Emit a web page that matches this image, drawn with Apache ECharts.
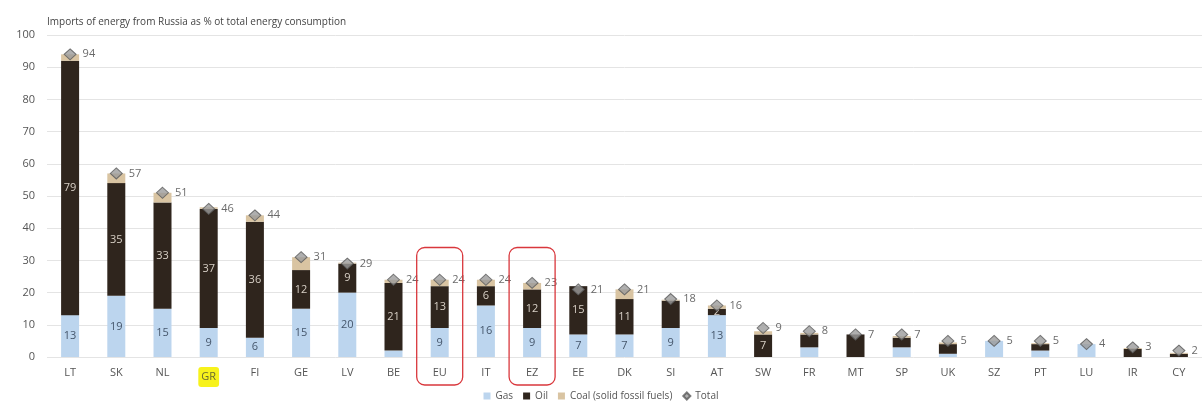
<!DOCTYPE html>
<html>
<head>
<meta charset="utf-8">
<script src="https://cdn.jsdelivr.net/npm/echarts@6/dist/echarts.min.js"></script>
<style>
  html, body { margin: 0; padding: 0; background: #fff; }
  #chart { width: 1202px; height: 410px; }
</style>
</head>
<body>
<div id="chart"></div>
<script>
// Country / aggregate codes
const categories = ['LT','SK','NL','GR','FI','GE','LV','BE','EU','IT','EZ','EE','DK','SI','AT','SW','FR','MT','SP','UK','SZ','PT','LU','IR','CY'];

// Share of total energy consumption imported from Russia, by fuel (%)
const gas   = [13, 19, 15, 9, 6, 15, 20, 2, 9, 16, 9, 7, 7, 9, 13, 0, 3, 0, 3, 1, 5, 2, 4, 0, 0];
const oil   = [79, 35, 33, 37, 36, 12, 9, 21, 13, 6, 12, 15, 11, 8.5, 2, 7, 4, 7, 3, 3, 0, 2, 0, 2.5, 1];
const coal  = [2, 3, 3, 0.5, 2, 4, 0.3, 1, 2, 2, 2, 0, 3, 0.3, 1, 1, 0.5, 0, 0.5, 0.5, 0, 0.3, 0, 0.3, 0.3];
const total = [94, 57, 51, 46, 44, 31, 29, 24, 24, 24, 23, 21, 21, 18, 16, 9, 8, 7, 7, 5, 5, 5, 4, 3, 2];

// Which in-bar values get a printed label
const gasLabelShown = ['LT','SK','NL','GR','FI','GE','LV','EU','IT','EZ','EE','DK','SI','AT'];
const oilLabelShown = ['LT','SK','NL','GR','FI','GE','LV','BE','EU','IT','EZ','EE','DK','AT','SW'];

// Categories framed for emphasis, and the one highlighted on the axis
const framed = ['EU', 'EZ'];
const highlighted = 'GR';

const yTicks = { min: 0, max: 100, interval: 10 };

const FONT = '"Open Sans", "Noto Sans", sans-serif';

function withLabels(values, shownList) {
  return values.map((v, i) => ({
    value: v,
    label: { show: shownList.includes(categories[i]) }
  }));
}

const chart = echarts.init(document.getElementById('chart'), null, { renderer: 'canvas' });

const option = {
  animation: false,
  textStyle: { fontFamily: FONT },
  title: {
    text: 'Imports of energy from Russia as % ot total energy consumption',
    left: 42, top: 12,
    textStyle: { fontSize: 10, fontWeight: 'normal', color: '#444', fontFamily: FONT }
  },
  grid: { left: 47, right: 0, top: 35, bottom: 53 },
  legend: {
    bottom: 4, left: 'center',
    itemWidth: 7, itemHeight: 7, itemGap: 10,
    textStyle: { fontSize: 10, color: '#555', fontFamily: FONT },
    data: [
      { name: 'Gas', icon: 'rect' },
      { name: 'Oil', icon: 'rect' },
      { name: 'Coal (solid fossil fuels)', icon: 'rect' },
      { name: 'Total', icon: 'diamond' }
    ]
  },
  xAxis: {
    type: 'category',
    data: categories,
    axisLine: { show: false },
    axisTick: { show: false },
    axisLabel: {
      interval: 0,
      color: '#555', fontSize: 11, margin: 10, fontFamily: FONT,
      formatter: v => v === highlighted ? '{hl|' + v + '}' : v,
      rich: {
        hl: {
          color: '#6a6a30', fontSize: 11, fontFamily: FONT,
          backgroundColor: '#f7f21c', padding: [4, 3, 5, 3], borderRadius: 3
        }
      }
    }
  },
  yAxis: {
    type: 'value',
    min: yTicks.min, max: yTicks.max, interval: yTicks.interval,
    axisLine: { show: false },
    axisTick: { show: false },
    axisLabel: { color: '#555', fontSize: 11, margin: 12, fontFamily: FONT },
    splitLine: { lineStyle: { color: '#e4e4e4', width: 1 } }
  },
  series: [
    {
      name: 'Gas', type: 'bar', stack: 'energy', barWidth: 18,
      itemStyle: { color: '#bcd5ee' },
      label: { position: 'inside', color: '#45566b', fontSize: 11, fontFamily: FONT },
      data: withLabels(gas, gasLabelShown)
    },
    {
      name: 'Oil', type: 'bar', stack: 'energy', barWidth: 18,
      itemStyle: { color: '#2f251d' },
      label: { position: 'inside', color: '#d8d0c6', fontSize: 11, fontFamily: FONT },
      data: withLabels(oil, oilLabelShown)
    },
    {
      name: 'Coal (solid fossil fuels)', type: 'bar', stack: 'energy', barWidth: 18,
      itemStyle: { color: '#d9c4a2' },
      data: coal
    },
    {
      name: 'Total', type: 'scatter',
      symbol: 'diamond', symbolSize: [12, 11],
      itemStyle: { color: '#9b9b9b', borderColor: '#5a5a5a', borderWidth: 1 },
      label: {
        show: true, position: 'right', distance: 6,
        color: '#444', fontSize: 11, fontFamily: FONT
      },
      data: total,
      z: 5
    }
  ]
};

chart.setOption(option);

// Rounded red frames around the aggregate categories
function drawFrames() {
  const elements = framed.map(cat => {
    const cx = chart.convertToPixel({ xAxisIndex: 0 }, cat);
    const yTop = chart.convertToPixel({ yAxisIndex: 0 }, 34);
    const yBase = chart.convertToPixel({ yAxisIndex: 0 }, 0);
    const w = 46;
    return {
      type: 'rect',
      shape: { x: cx - w / 2, y: yTop, width: w, height: yBase + 28 - yTop, r: 8 },
      style: { fill: 'none', stroke: '#d9373c', lineWidth: 1.3 },
      z: 10
    };
  });
  chart.setOption({ graphic: elements });
}
drawFrames();
</script>
</body>
</html>
